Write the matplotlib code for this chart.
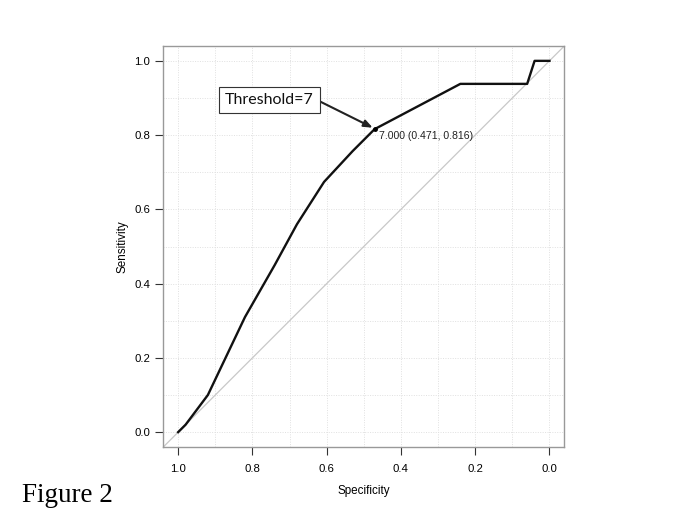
import matplotlib
matplotlib.use("Agg")
import matplotlib.pyplot as plt
import numpy as np

specificity = [1.0, 0.98, 0.92, 0.82, 0.74, 0.68, 0.607, 0.53, 0.471, 0.24, 0.06, 0.04, 0.0]
sensitivity = [0.0, 0.02, 0.10, 0.31, 0.45, 0.56, 0.674, 0.757, 0.816, 0.938, 0.938, 1.0, 1.0]
best_spec, best_sens = 0.471, 0.816
best_label = "7.000 (0.471, 0.816)"
box_label = "Threshold=7"
ticks = [0.0, 0.2, 0.4, 0.6, 0.8, 1.0]
tick_labels = ["0.0", "0.2", "0.4", "0.6", "0.8", "1.0"]

plt.rcParams['font.family'] = ['Liberation Sans', 'DejaVu Sans']

fig = plt.figure(figsize=(6.96, 5.22), dpi=100)
ax = fig.add_axes([163.3/696, 1-447/522, 401/696, 401/522])

grid_vals = np.round(np.arange(0, 1.01, 0.1), 2)
for g in grid_vals:
    ax.axvline(g, color='#e0e0e0', lw=0.7, ls=(0, (1, 1.5)), zorder=0)
    ax.axhline(g, color='#e0e0e0', lw=0.7, ls=(0, (1, 1.5)), zorder=0)

ax.plot([1.04, -0.04], [-0.04, 1.04], color='#c8c8c8', lw=0.9, zorder=1)
ax.plot(specificity, sensitivity, color='#111111', lw=1.7, zorder=2)
ax.plot([best_spec], [best_sens], 'o', color='black', ms=2.5, zorder=3)
ax.text(best_spec - 0.013, best_sens - 0.005, best_label, fontsize=7.6, va='top', ha='left', color='#222222')

ax.annotate(box_label, xy=(best_spec + 0.005, best_sens + 0.004), xytext=(0.754, 0.895),
            fontsize=11.5, family=['Lato', 'DejaVu Sans'], ha='center', va='center', color='#111111',
            bbox=dict(boxstyle='square,pad=0.36', fc='white', ec='#333333', lw=0.8),
            arrowprops=dict(arrowstyle='-|>,head_length=0.45,head_width=0.18', color='#222222', lw=1.5,
                            shrinkA=0, shrinkB=0, relpos=(1.0, 0.6)), zorder=4)

ax.set_xlim(1.04, -0.04)
ax.set_ylim(-0.04, 1.04)
ax.set_xticks(ticks)
ax.set_xticklabels(tick_labels)
ax.set_yticks(ticks)
ax.set_yticklabels(tick_labels)
ax.tick_params(axis='both', direction='out', length=5.5, width=0.8, color='#333333', labelsize=8.2)
ax.tick_params(axis='x', pad=7)
ax.tick_params(axis='y', pad=4)
for s in ax.spines.values():
    s.set_color('#999999')
    s.set_linewidth(1.0)
ax.set_xlabel('Specificity', fontsize=8.4, labelpad=8)
ax.set_ylabel('Sensitivity', fontsize=8.4, labelpad=4)

fig.text(22/696, 1-495/522, 'Figure 2', fontsize=19.5, family=['Liberation Serif', 'DejaVu Serif'], va='center', ha='left')

fig.savefig('out.png', dpi=100)
